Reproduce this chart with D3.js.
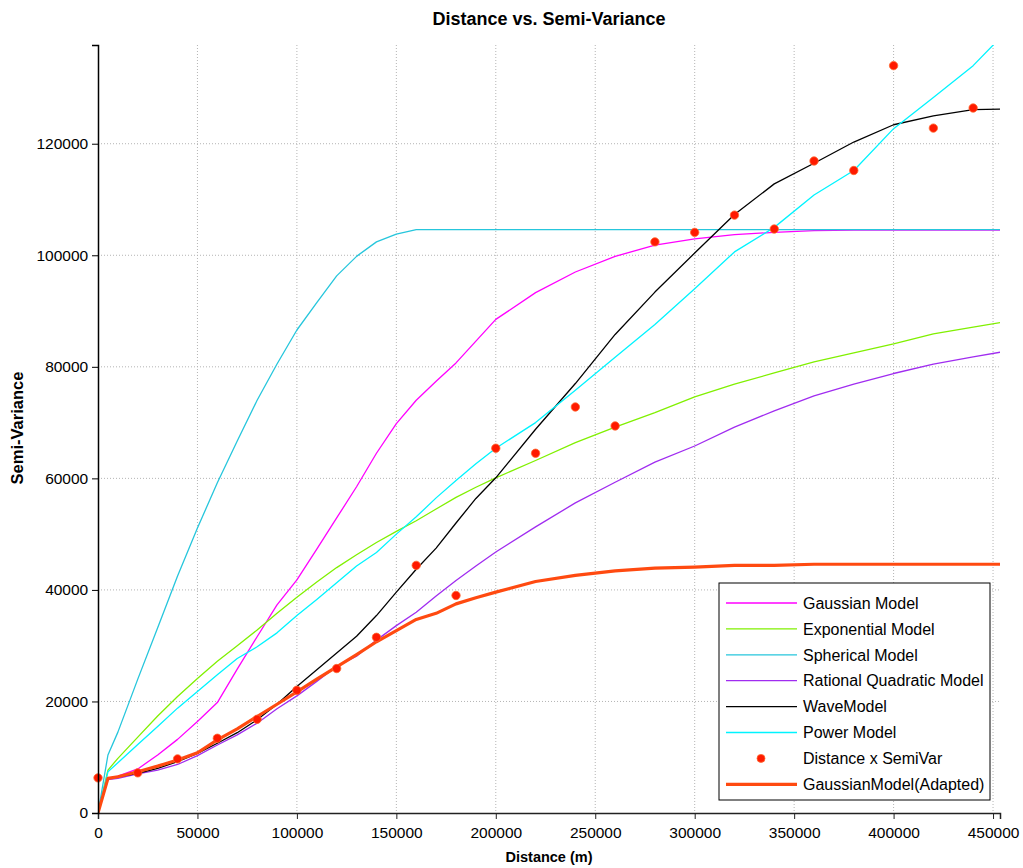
<!DOCTYPE html>
<html>
<head>
<meta charset="utf-8">
<script src="https://cdn.jsdelivr.net/npm/d3@7"></script>
<style>
  body { margin: 0; background: #fff; }
  svg { font-family: "Liberation Sans", Arial, sans-serif; }
</style>
</head>
<body>
<div id="chart"></div>
<script>
// lag distances (m) at which the model curves were read
const lags = [0, 5000, 10000, 20000, 30000, 40000, 50000, 60000, 70000, 80000, 90000,
  100000, 110000, 120000, 130000, 140000, 150000, 160000, 170000, 180000, 190000, 200000,
  220000, 240000, 260000, 280000, 300000, 320000, 340000, 360000, 380000, 400000, 420000, 440000, 455000];

const gaussian = [0, 6200, 6600, 7900, 10400, 13200, 16400, 19800, 25800, 31600, 37300,
  41800, 47300, 52900, 58500, 64500, 69800, 74000, 77400, 80700, 84600, 88500,
  93300, 97000, 99800, 101800, 102950, 103700, 104100, 104400, 104500, 104500, 104500, 104500, 104500];

const exponential = [0, 7700, 9800, 13600, 17400, 20900, 24100, 27200, 30000, 32800, 35800,
  38700, 41400, 44000, 46300, 48500, 50500, 52400, 54500, 56600, 58400, 60100,
  63200, 66400, 69200, 71800, 74600, 76900, 78900, 80900, 82500, 84100, 85900, 87100, 88000];

const spherical = [0, 10400, 14500, 24000, 33200, 42500, 51100, 59200, 66700, 74000, 80500,
  86600, 91500, 96300, 99800, 102400, 103800, 104600, 104600, 104600, 104600, 104600,
  104600, 104600, 104600, 104600, 104600, 104600, 104600, 104600, 104600, 104600, 104600, 104600, 104600];

const rationalQuadratic = [0, 6000, 6200, 7000, 7700, 8700, 10300, 12200, 14000, 16100, 18700,
  21000, 23600, 26300, 28100, 31000, 33600, 36000, 38900, 41700, 44300, 46800,
  51300, 55600, 59300, 62900, 65800, 69200, 72100, 74800, 76900, 78800, 80500, 81800, 82700];

const wave = [0, 6200, 6500, 7100, 8000, 9200, 10700, 12500, 14400, 16700, 19500,
  22700, 25700, 28700, 31700, 35400, 39600, 43700, 47500, 52000, 56400, 60100,
  68800, 77000, 85800, 93400, 100400, 107300, 112800, 116500, 120300, 123400, 125000, 126100, 126200];

const power = [0, 7400, 9000, 12300, 15500, 18800, 21800, 24800, 27700, 29800, 32300,
  35400, 38300, 41300, 44300, 46700, 50000, 53100, 56500, 59600, 62600, 65400,
  70000, 75800, 81700, 87600, 94000, 100600, 105000, 110800, 115200, 122700, 128300, 134000, 139500];

const gaussianAdapted = [0, 6200, 6500, 7400, 8400, 9500, 10800, 13100, 15100, 17300, 19500,
  21700, 24000, 26200, 28400, 30700, 32700, 34700, 35800, 37500, 38600, 39600,
  41500, 42600, 43400, 43900, 44100, 44400, 44400, 44600, 44600, 44600, 44600, 44600, 44600];

// experimental semivariogram points
const sampleDist = [0, 20000, 40000, 60000, 80000, 100000, 120000, 140000, 160000, 180000, 200000,
  220000, 240000, 260000, 280000, 300000, 320000, 340000, 360000, 380000, 400000, 420000, 440000];
const sampleSemiVar = [6300, 7200, 9700, 13400, 16800, 22000, 25900, 31500, 44400, 39000, 65400,
  64500, 72800, 69400, 102400, 104100, 107200, 104700, 116900, 115200, 134000, 122800, 126400];

const xTicks = [0, 50000, 100000, 150000, 200000, 250000, 300000, 350000, 400000, 450000];
const yTicks = [0, 20000, 40000, 60000, 80000, 100000, 120000];

const models = [
  { name: "Gaussian Model", values: gaussian, color: "#ff00ff", width: 1.3 },
  { name: "Exponential Model", values: exponential, color: "#80f000", width: 1.3 },
  { name: "Spherical Model", values: spherical, color: "#26c6dc", width: 1.3 },
  { name: "Rational Quadratic Model", values: rationalQuadratic, color: "#a02cf0", width: 1.3 },
  { name: "WaveModel", values: wave, color: "#000000", width: 1.3 },
  { name: "Power Model", values: power, color: "#00f4ff", width: 1.3 },
  { name: "GaussianModel(Adapted)", values: gaussianAdapted, color: "#ff4a10", width: 3.2 }
];

const W = 1023, H = 868;
const margin = { left: 98, right: 23, top: 45, bottom: 55 };

const svg = d3.select("#chart").append("svg").attr("width", W).attr("height", H);

const x = d3.scaleLinear().domain([0, 453500]).range([margin.left, W - margin.right]);
const y = d3.scaleLinear().domain([0, 137700]).range([H - margin.bottom, margin.top]);

svg.append("defs").append("clipPath").attr("id", "plotClip")
  .append("rect")
  .attr("x", margin.left).attr("y", margin.top)
  .attr("width", W - margin.right - margin.left)
  .attr("height", H - margin.bottom - margin.top);

// grid
const grid = svg.append("g").attr("class", "grid");
grid.selectAll("line.gx").data(xTicks.slice(1)).enter().append("line")
  .attr("x1", d => x(d)).attr("x2", d => x(d))
  .attr("y1", y.range()[1]).attr("y2", y.range()[0])
  .attr("stroke", "#b4b4b4").attr("stroke-dasharray", "1,2");
grid.selectAll("line.gy").data(yTicks.slice(1)).enter().append("line")
  .attr("x1", x.range()[0]).attr("x2", x.range()[1])
  .attr("y1", d => y(d)).attr("y2", d => y(d))
  .attr("stroke", "#b4b4b4").attr("stroke-dasharray", "1,2");

// curves
const line = d3.line()
  .x((d, i) => x(lags[i]))
  .y(d => y(d));

const curves = svg.append("g").attr("clip-path", "url(#plotClip)");
// thin models first, adapted last so it sits on top
for (let m of models) {
  curves.append("path")
    .datum(m.values)
    .attr("fill", "none")
    .attr("stroke", m.color)
    .attr("stroke-width", m.width)
    .attr("stroke-linejoin", "round")
    .attr("d", line);
}

svg.append("g").selectAll("circle")
  .data(sampleDist)
  .enter().append("circle")
  .attr("cx", d => x(d))
  .attr("cy", (d, i) => y(sampleSemiVar[i]))
  .attr("r", 4.2)
  .attr("fill", "#ff1a00")
  .attr("stroke", "#ff6a30")
  .attr("stroke-width", 0.8);

// axes
const xAxis = d3.axisBottom(x).tickValues(xTicks).tickFormat(d3.format("d")).tickSizeOuter(0).tickSize(6);
const yAxis = d3.axisLeft(y).tickValues(yTicks).tickFormat(d3.format("d")).tickSizeOuter(0).tickSize(6);

const gx = svg.append("g").attr("transform", `translate(0,${y(0)})`).call(xAxis);
gx.select(".domain").attr("stroke", "#222").attr("stroke-width", 1.5);
gx.selectAll(".tick line").attr("stroke", "#222");
gx.selectAll(".tick text").attr("font-size", 15.5).attr("fill", "#000").attr("dy", "1.0em")
  .attr("font-family", "Liberation Sans, Arial, sans-serif");

const gy = svg.append("g").attr("transform", `translate(${x(0)},0)`).call(yAxis);
gy.select(".domain").attr("stroke", "#000").attr("stroke-width", 1.5);
gy.selectAll(".tick line").attr("stroke", "#000");
gy.selectAll(".tick text").attr("font-size", 15.5).attr("fill", "#000").attr("dx", "-0.05em")
  .attr("font-family", "Liberation Sans, Arial, sans-serif");

// titles
svg.append("text")
  .attr("x", 549).attr("y", 25)
  .attr("text-anchor", "middle")
  .attr("font-size", 18).attr("font-weight", "bold")
  .text("Distance vs. Semi-Variance");

svg.append("text")
  .attr("x", 549).attr("y", 862)
  .attr("text-anchor", "middle")
  .attr("font-size", 14.5).attr("font-weight", "bold")
  .text("Distance (m)");

svg.append("text")
  .attr("transform", "translate(23,428) rotate(-90)")
  .attr("text-anchor", "middle")
  .attr("font-size", 16.5).attr("font-weight", "bold")
  .text("Semi-Variance");

// legend
const legendItems = [
  models[0], models[1], models[2], models[3], models[4], models[5],
  { name: "Distance x SemiVar", dot: true },
  models[6]
];
const legend = svg.append("g").attr("transform", "translate(719,583)");
legend.append("rect")
  .attr("width", 271).attr("height", 217)
  .attr("fill", "#fff").attr("stroke", "#000").attr("stroke-width", 1);
const rows = legend.selectAll("g.row").data(legendItems).enter().append("g")
  .attr("transform", (d, i) => `translate(0,${20 + i * 25.9})`);
rows.filter(d => !d.dot).append("line")
  .attr("x1", 7).attr("x2", 78)
  .attr("stroke", d => d.color)
  .attr("stroke-width", d => d.width);
rows.filter(d => d.dot).append("circle")
  .attr("cx", 42).attr("r", 4)
  .attr("fill", "#ff1a00").attr("stroke", "#ff6a30").attr("stroke-width", 0.8);
rows.append("text")
  .attr("x", 84).attr("dy", "0.36em")
  .attr("font-size", 16)
  .text(d => d.name);
</script>
</body>
</html>
